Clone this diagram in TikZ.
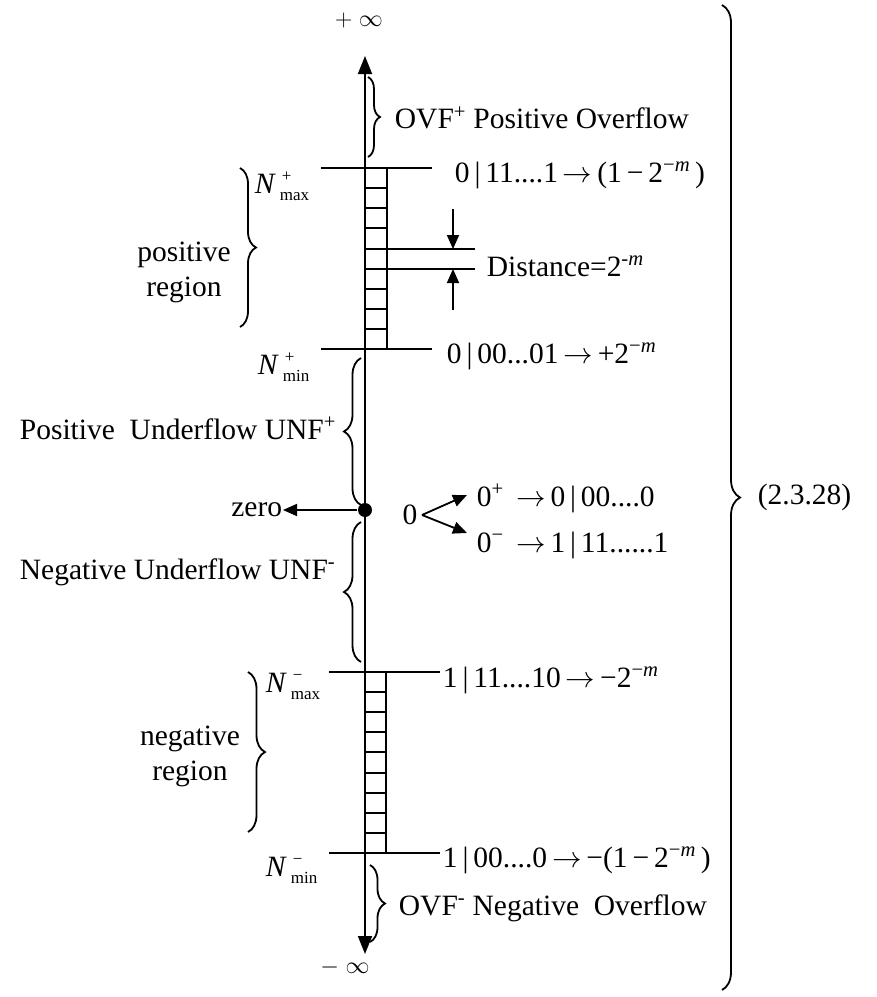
\RequirePackage{fix-cm}
\documentclass[tikz,border=0pt]{standalone}
\usepackage{fontspec}
\setmainfont{Liberation Serif}
\usetikzlibrary{arrows.meta,decorations.pathreplacing}
\newcommand\ssz{\fontsize{17}{17}\selectfont}
\newcommand\NNN[2]{\textit{N}\kern4pt\raisebox{-7pt}{\rlap{\kern2pt\raisebox{19pt}{\ssz #1}}\ssz #2}}
\newcommand\tm{\textsuperscript{−\textit{m}}}
\newcommand\ra{\,$\rightarrow$\,}
\begin{document}
\begin{tikzpicture}[x=1pt,y=-1pt, line width=1.8pt,
  txt/.style={font=\fontsize{29.5}{35}\selectfont, inner sep=0pt},
  inftxt/.style={font=\fontsize{24}{28}\selectfont, inner sep=0pt},
  bigtip/.style={{Triangle[length=18pt,width=14pt]}-{Triangle[length=18pt,width=14pt]}},
  smalltip/.style={-{Triangle[length=14pt,width=12pt]}},
  brc/.style={decorate, decoration={brace, amplitude=#1}},
]
\useasboundingbox (0,0) rectangle (877,997);

% main axis
\coordinate (top) at (365,56);
\coordinate (bot) at (365,954);
\draw[bigtip] (bot) -- (top);
\node[inftxt] (pinf) at (359,20) {$+\;\infty$};
\node[inftxt] (minf) at (345,967) {$-\;\infty$};

% upper ladder
\foreach \yy in {168,188,208,228,249,269,289,309,329,349} \draw (365,\yy) -- (387,\yy);
\draw (387,168) -- (387,349);
\draw (321,168) -- (432,168);
\draw (321,349) -- (432,349);
\draw (387,249) -- (475,249);
\draw (387,269) -- (475,269);

% lower ladder
\foreach \yy in {672,692,712,732,752,773,793,813,833,853} \draw (365,\yy) -- (386,\yy);
\draw (386,672) -- (386,853);
\draw (329,672) -- (440,672);
\draw (329,853) -- (440,853);

% distance arrows
\coordinate (da1) at (453,209);
\coordinate (da2) at (453,249);
\coordinate (db1) at (453,310);
\coordinate (db2) at (453,269);
\draw[smalltip] (da1) -- (da2);
\draw[smalltip] (db1) -- (db2);
\node[txt, anchor=west] (dist) at (486,266) {Distance=2\textsuperscript{-\textit{m}}};

% braces
\draw[brc=12pt] (368,77) -- (368,157);
\draw[brc=16pt] (240,168) -- (240,327);
\draw[brc=17pt] (361,505) -- (361,358);
\draw[brc=17pt] (361,662) -- (361,522);
\draw[brc=17pt] (248,672) -- (248,832);
\draw[brc=15pt] (370,865) -- (370,942);
\draw[brc=18pt] (722,5) -- (722,990);

% labels
\node[txt, anchor=west] (ovfp) at (394,118) {OVF\textsuperscript{+} Positive Overflow};
\node[txt, anchor=west] (nmaxp) at (254,186) {\NNN{+}{max}};
\node[txt, anchor=west] (vmaxp) at (454,175) {0\,|\,11....1\ra(1\,−\,2\tm\,)};
\node[txt, align=center] (preg) at (184,272) {positive\\region};
\node[txt, anchor=west] (nminp) at (257,367) {\NNN{+}{min}};
\node[txt, anchor=west] (vminp) at (446,356) {0\,|\,00...01\ra+2\tm};
\node[txt, anchor=west] (unfp) at (19,428) {Positive\ \ Underflow UNF\textsuperscript{+}};

% zero
\node[circle, fill, inner sep=0pt, minimum size=14pt] (zdot) at (365,510) {};
\node[txt, anchor=east] (zero) at (283,510) {zero};
\draw[smalltip] (zdot) -- (zero);
\node[txt] (z0) at (410,515) {0};
\coordinate (zs) at (422,515);
\coordinate (zt1) at (467,495);
\coordinate (zt2) at (467,533);
\draw[smalltip] (zs) -- (zt1);
\draw[smalltip] (zs) -- (zt2);
\node[txt, anchor=west] (zp) at (476,498) {0\textsuperscript{+}\ \ra0\,|\,00....0};
\node[txt, anchor=west] (zm) at (476,545) {0\textsuperscript{−}\ \ra1\,|\,11......1};

\node[txt, anchor=west] (unfm) at (19,572) {Negative Underflow UNF\textsuperscript{-}};
\node[txt, anchor=west] (nmaxm) at (265,686) {\NNN{−}{max}};
\node[txt, anchor=west] (vmaxm) at (442,680) {1\,|\,11....10\ra−2\tm};
\node[txt, align=center] (nreg) at (190,756) {negative\\region};
\node[txt, anchor=west] (nminm) at (265,870) {\NNN{−}{min}};
\node[txt, anchor=west] (vminm) at (442,860) {1\,|\,00....0\ra−(1\,−\,2\tm\,)};
\node[txt, anchor=west] (ovfm) at (398,908) {OVF\textsuperscript{-} Negative\ \ Overflow};
\node[txt, anchor=west] (eq) at (757,497) {(2.3.28)};
\end{tikzpicture}
\end{document}
